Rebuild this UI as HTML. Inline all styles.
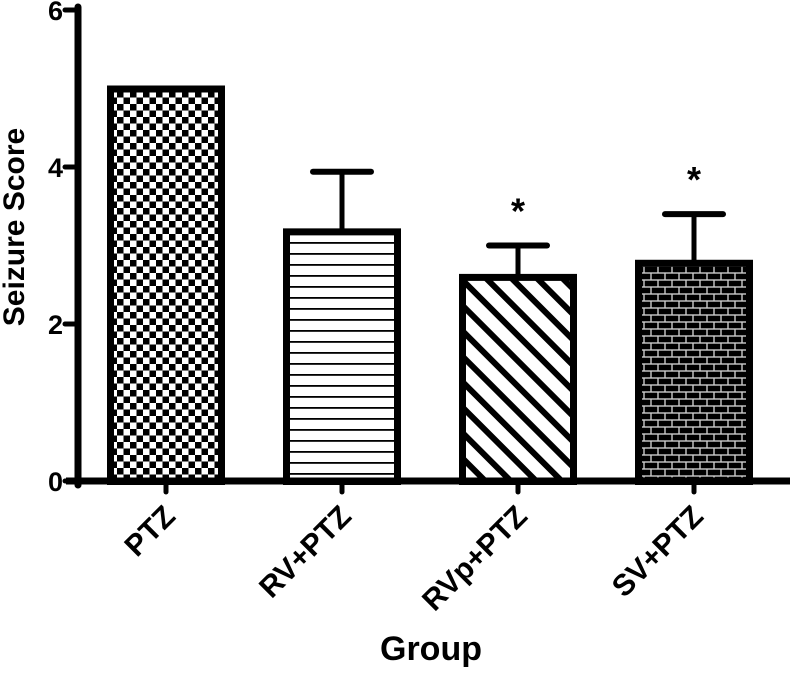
<!DOCTYPE html>
<html><head><meta charset="utf-8"><style>
html,body{margin:0;padding:0;background:#fff;}
svg text{font-family:"Liberation Sans",Arial,sans-serif;font-weight:bold;fill:#000;}
</style></head><body>
<svg id="chart" width="790" height="669" viewBox="0 0 790 669" xmlns="http://www.w3.org/2000/svg">
<defs>
<pattern id="pCheck" width="13" height="13" patternUnits="userSpaceOnUse">
<rect width="13" height="13" fill="#fff"/><rect width="6.5" height="6.5" fill="#000"/><rect x="6.5" y="6.5" width="6.5" height="6.5" fill="#000"/>
</pattern>
<pattern id="pHoriz" width="10" height="11" patternUnits="userSpaceOnUse">
<rect width="10" height="11" fill="#fff"/><rect y="0" width="10" height="1.8" fill="#000"/>
</pattern>
<pattern id="pDiag" width="18" height="18" patternUnits="userSpaceOnUse" patternTransform="rotate(-45)">
<rect width="18" height="18" fill="#fff"/><rect width="6" height="18" fill="#000"/>
</pattern>
<pattern id="pBrick" width="14" height="14" patternUnits="userSpaceOnUse">
<rect width="14" height="14" fill="#ccc"/>
<rect x="0.7" y="0.7" width="12.6" height="5.6" fill="#000"/>
<rect x="-6.3" y="7.7" width="12.6" height="5.6" fill="#000"/>
<rect x="7.7" y="7.7" width="12.6" height="5.6" fill="#000"/>
</pattern>
</defs>
<g id="bars"></g>
<g id="axes"></g>
</svg>
<script>
const categories = ["PTZ", "RV+PTZ", "RVp+PTZ", "SV+PTZ"];
const means = [5.0, 3.18, 2.6, 2.78];
const errors = [0, 0.76, 0.4, 0.62];
const significant = [false, false, true, true];
const yTicks = [0, 2, 4, 6];
const fills = ["url(#pCheck)", "url(#pHoriz)", "url(#pDiag)", "url(#pBrick)"];

const NS = "http://www.w3.org/2000/svg";
const x0 = 78, y0 = 481, pxPerUnit = 78.5, step = 176, firstCenter = 166, barW = 112;
function yS(v){ return y0 - v * pxPerUnit; }
function xS(i){ return firstCenter + i * step; }
function mk(tag, attrs, parent){
  const e = document.createElementNS(NS, tag);
  for (const k in attrs) e.setAttribute(k, attrs[k]);
  parent.appendChild(e); return e;
}
const bars = document.getElementById("bars");
const axes = document.getElementById("axes");

categories.forEach((c, i) => {
  const cx = xS(i), top = yS(means[i]);
  if (errors[i] > 0) {
    const et = yS(means[i] + errors[i]);
    const stem = mk("line", {x1:cx, x2:cx, y1:top, y2:et, stroke:"#000", "stroke-width":5}, bars);
    
    
    const cap = mk("line", {x1:cx-29, x2:cx+29, y1:et, y2:et, stroke:"#000", "stroke-width":6, "stroke-linecap":"round"}, bars);
    
    
    if (significant[i]) {
      const s = mk("text", {x:cx, y:et - 22, "text-anchor":"middle", "font-size":36}, bars);
      s.textContent = "*";
      
      
    }
  }
  const r = mk("rect", {x:cx - barW/2 + 0.5, y:top + 0.5, width:barW - 1, height:y0 - top, fill:fills[i], stroke:"#000", "stroke-width":7}, bars);
  
  
  const tk = mk("line", {x1:cx, x2:cx, y1:y0, y2:y0+11, stroke:"#000", "stroke-width":5, "stroke-linecap":"round"}, axes);
  
  
  const lx = cx + 11, ly = 518;
  const t = mk("text", {x:lx, y:ly, "text-anchor":"end", "font-size":30, transform:"rotate(-45 " + lx + " " + ly + ")"}, axes);
  t.textContent = c;
  
  
});

const ya = mk("line", {x1:x0, x2:x0, y1:yS(6)-3, y2:y0+4, stroke:"#000", "stroke-width":7, "stroke-linecap":"round"}, axes);


const xa = mk("line", {x1:x0-12, x2:790, y1:y0, y2:y0, stroke:"#000", "stroke-width":7}, axes);


yTicks.forEach(v => {
  const y = yS(v);
  const l = mk("line", {x1:x0-13, x2:x0, y1:y, y2:y, stroke:"#000", "stroke-width":5, "stroke-linecap":"round"}, axes);
  
  
  const t = mk("text", {x:x0-15, y:y+10, "text-anchor":"end", "font-size":27}, axes);
  t.textContent = v;
  
  
});
const yt = mk("text", {x:0, y:0, "text-anchor":"middle", "font-size":30, transform:"translate(24 227) rotate(-90)"}, axes);
yt.textContent = "Seizure Score";


const xt = mk("text", {x:431, y:660, "text-anchor":"middle", "font-size":34}, axes);
xt.textContent = "Group";


</script>
</body></html>
